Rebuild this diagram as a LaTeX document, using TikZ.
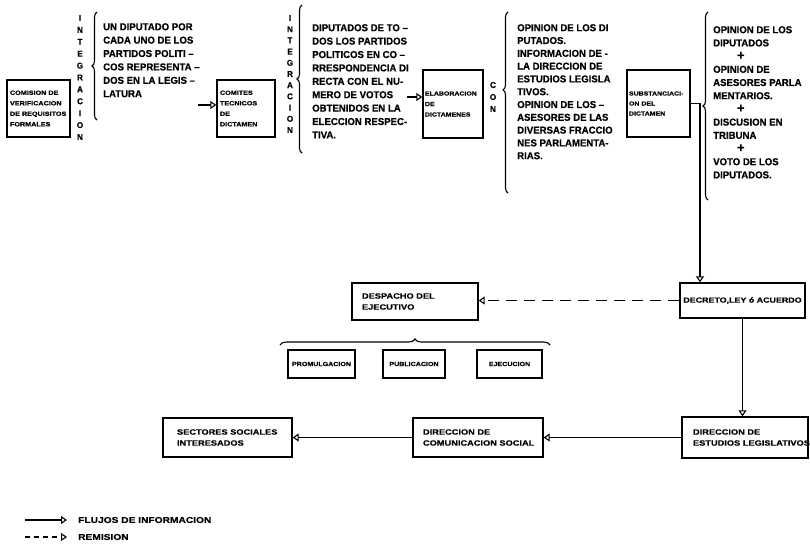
\documentclass[tikz,border=0pt]{standalone}
\usepackage{fontspec}
\setmainfont{Liberation Sans}
\newfontfamily\blockfont{Liberation Sans}[FakeStretch=0.96,FakeBold=0.6]
\newfontfamily\wfont{Liberation Sans}[FakeStretch=1.2,FakeBold=0.5]
\usetikzlibrary{arrows.meta,decorations.pathreplacing,calc}
\newcommand{\bigplus}{\hspace*{24pt}{\fontsize{13}{13.2}\selectfont +}}
\begin{document}
\begin{tikzpicture}[x=1pt,y=-1pt,
 flow/.style={line width=1.1pt,-{Triangle[open,length=6pt,width=8pt,line width=1.1pt]}},
 remit/.style={flow,dash pattern=on 11pt off 7pt},
 box/.style={draw,line width=1.4pt,inner ysep=0pt,align=left,anchor=center},
 sbox/.style={box,font=\wfont\bfseries\fontsize{6}{10.5}\selectfont},
 lbox/.style={box,font=\wfont\bfseries\fontsize{7.7}{11}\selectfont},
 blk/.style={inner sep=0pt,anchor=north west,align=left,font=\blockfont\bfseries\fontsize{10}{13.4}\selectfont},
 vert/.style={inner sep=0pt,align=center,font=\blockfont\bfseries\fontsize{8.5}{11.9}\selectfont},
 brc/.style={decorate,decoration={brace,amplitude=5pt},line width=1.1pt},
 legend/.style={anchor=west,inner sep=0pt,font=\wfont\bfseries\fontsize{8.5}{10}\selectfont},
]
\useasboundingbox (0,0) rectangle (810,544);

% top row boxes
\node[sbox,text width=57pt,inner xsep=3pt,minimum height=57pt] (b1) at (38.5,108.5)
  {COMISION DE\\VERIFICACION\\\mbox{DE REQUISITOS}\\FORMALES};
\node[sbox,text width=52pt,inner xsep=3pt,minimum height=57pt] (b2) at (246,108.5)
  {COMITES\\TECNICOS\\DE\\DICTAMEN};
\node[sbox,text width=56pt,inner xsep=2pt,minimum height=68pt,font=\wfont\bfseries\fontsize{5.8}{10.5}\selectfont] (b3) at (453,104)
  {ELABORACION\\DE\\DICTAMENES};
\node[sbox,text width=59pt,inner xsep=2pt,minimum height=67pt,font=\wfont\bfseries\fontsize{5.8}{10}\selectfont] (b4) at (658.5,103.5)
  {\mbox{SUBSTANCIACI-}\\ON DEL\\DICTAMEN};

% vertical words
\node[vert] (i1) at (80,77.5) {I\\N\\T\\E\\G\\R\\A\\C\\I\\O\\N};
\node[vert,font=\blockfont\bfseries\fontsize{8.5}{11.2}\selectfont] (i2) at (290,74) {I\\N\\T\\E\\G\\R\\A\\C\\I\\O\\N};
\node[vert,font=\blockfont\bfseries\fontsize{8.5}{12}\selectfont] (c3) at (493,97) {C\\O\\N};

% braces
\draw[brc] (97,120) -- (97,12);
\draw[brc] (302,153) -- (302,5);
\draw[brc,decoration={brace,amplitude=5pt,aspect=0.57}] (508,193) -- (508,12);
\draw[brc] (708,200) -- (708,12);

% text blocks
\node[blk] (t1) at (103,23)
  {UN DIPUTADO POR\\CADA UNO DE LOS\\PARTIDOS POLITI –\\COS REPRESENTA –\\DOS EN LA LEGIS –\\LATURA};
\node[blk] (t2) at (312,24)
  {DIPUTADOS DE TO –\\DOS LOS PARTIDOS\\POLITICOS EN CO –\\RRESPONDENCIA DI\\RECTA CON EL NU-\\MERO DE VOTOS\\OBTENIDOS EN LA\\ELECCION RESPEC-\\TIVA.};
\node[blk,font=\blockfont\bfseries\fontsize{10}{12.8}\selectfont] (t3) at (517,24)
  {OPINION DE LOS DI\\PUTADOS.\\INFORMACION DE -\\LA DIRECCION DE\\ESTUDIOS LEGISLA\\TIVOS.\\OPINION DE LOS –\\ASESORES DE LAS\\DIVERSAS FRACCIO\\NES PARLAMENTA-\\RIAS.};
\node[blk,font=\blockfont\bfseries\fontsize{10}{13.2}\selectfont] (t4) at (713,26)
  {OPINION DE LOS\\DIPUTADOS\\\bigplus\\OPINION DE\\ASESORES PARLA\\MENTARIOS.\\\bigplus\\DISCUSION EN\\TRIBUNA\\\bigplus\\VOTO DE LOS\\DIPUTADOS.};

% lower boxes
\node[lbox,align=center,text width=121pt,inner xsep=2pt,minimum height=35pt,font=\wfont\bfseries\fontsize{7.4}{11}\selectfont] (decreto) at (742.5,300.5)
  {\mbox{DECRETO,LEY ó ACUERDO}};
\node[lbox,text width=106pt,inner xsep=10pt,minimum height=37pt] (despacho) at (415,301.5)
  {DESPACHO DEL\\EJECUTIVO};
\node[sbox,align=center,text width=65pt,inner xsep=1pt,minimum height=28pt,font=\wfont\bfseries\fontsize{5.9}{9}\selectfont] (prom) at (321.5,364) {PROMULGACION};
\node[sbox,align=center,text width=60pt,inner xsep=1pt,minimum height=28pt,font=\wfont\bfseries\fontsize{5.9}{9}\selectfont] (publ) at (414,364) {PUBLICACION};
\node[sbox,align=center,text width=63pt,inner xsep=1pt,minimum height=28pt,font=\wfont\bfseries\fontsize{5.9}{9}\selectfont] (ejec) at (509.5,364) {EJECUCION};
\node[lbox,text width=104pt,inner xsep=11pt,minimum height=41pt] (dirEst) at (745,437.5)
  {DIRECCION DE\\\mbox{ESTUDIOS LEGISLATIVOS}};
\node[lbox,text width=110pt,inner xsep=10pt,minimum height=39pt] (comun) at (478,437.5)
  {DIRECCION DE\\\mbox{COMUNICACION SOCIAL}};
\node[lbox,text width=101pt,inner xsep=14pt,minimum height=39pt] (sect) at (227.5,437.5)
  {\mbox{SECTORES SOCIALES}\\INTERESADOS};

\draw[brc,decoration={brace,amplitude=6pt}] (280,345) -- (550,345);

% connectors
\coordinate (a1s) at (198,105);
\draw[flow] (a1s) -- (a1s -| b2.west);
\coordinate (a2s) at (407,97);
\draw[flow] (a2s) -- (a2s -| b3.west);
\coordinate (k) at (700,0);
\draw[flow] (b4.east) -| (decreto.north -| k);
\draw[remit] (decreto.west) -- (despacho.east |- decreto.west);
\draw[flow] (decreto.south) -- (decreto.south |- dirEst.north);
\draw[flow] (dirEst.west) -- (comun.east |- dirEst.west);
\draw[flow] (comun.west) -- (sect.east |- comun.west);

% legend
\node[legend] (lg1) at (78,520) {FLUJOS DE INFORMACION};
\node[legend] (lg2) at (78,537) {REMISION};
\coordinate (lg1s) at (25,520);
\coordinate (lg2s) at (25,537);
\draw[flow] (lg1s) -- ([xshift=-11pt]lg1.west);
\draw[remit,dash pattern=on 5pt off 4pt] (lg2s) -- ([xshift=-11pt]lg2.west);
\end{tikzpicture}
\end{document}
